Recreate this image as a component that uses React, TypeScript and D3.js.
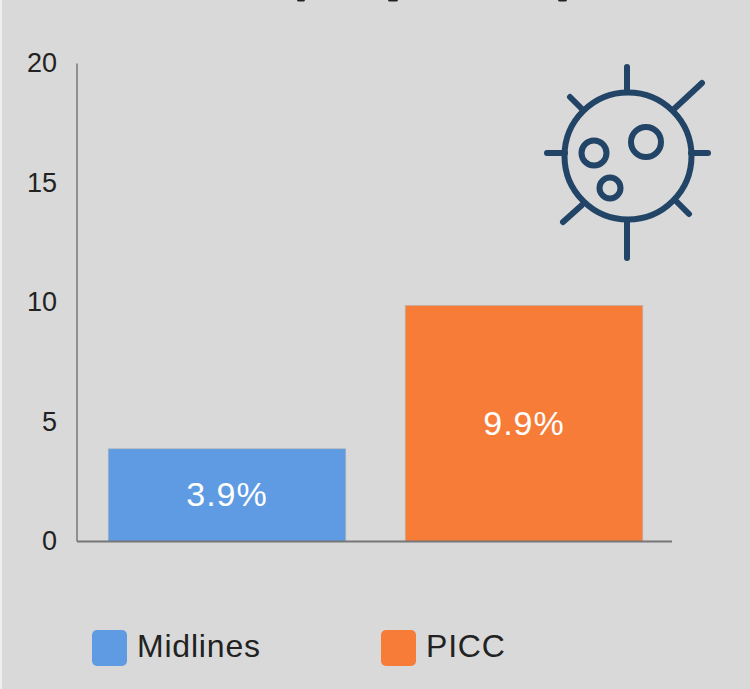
import React from 'react';
import * as d3 from 'd3';

const categories = ['Midlines', 'PICC'];
const values = [3.9, 9.9];
const valueLabels = ['3.9%', '9.9%'];
const colors = ['#5e9be3', '#f67c38'];
const yTicks = [0, 5, 10, 15, 20];

// descenders of the cropped title, all that is left of it at the top edge
const titleStubs = [[297, 8], [388, 10], [558, 9]];

const ICON = '#224466';
const FONT = '"Liberation Sans", Arial, sans-serif';

const App = () => {
  const y = d3.scaleLinear().domain([0, 20]).range([541.5, 63.5]);
  const x = d3.scaleBand().domain(categories).range([78.5, 672.5]).paddingInner(0.2).paddingOuter(0.1);
  const legendX = [92, 381];

  return (
    <svg
      width={750}
      height={689}
      style={{ position: 'absolute', left: 0, top: 0, display: 'block' }}
      fontFamily={FONT}
    >
      <rect width={750} height={689} fill="#d9d9d9" />
      <rect x={0} y={0} width={2} height={689} fill="#eeeeee" />

      {titleStubs.map(([sx, w]) => (
        <rect key={sx} x={sx} y={-2} width={w} height={3.5} rx={1.75} fill="#222222" />
      ))}

      {categories.map((c, i) => (
        <g key={c}>
          <rect
            x={x(c)}
            y={y(values[i]) + 0.5}
            width={x.bandwidth()}
            height={y(0) - y(values[i]) - 0.5}
            fill={colors[i]}
            stroke="#b5b5b5"
            strokeWidth={0.6}
          />
          <text
            x={(x(c) as number) + x.bandwidth() / 2}
            y={(y(values[i]) + y(0)) / 2 + 11.5}
            textAnchor="middle"
            fontSize={34}
            letterSpacing={1}
            fill="#ffffff"
          >
            {valueLabels[i]}
          </text>
        </g>
      ))}

      <line x1={77} x2={77} y1={y(20)} y2={y(0)} stroke="#777777" strokeWidth={1.5} />
      <line x1={77} x2={672} y1={y(0)} y2={y(0)} stroke="#777777" strokeWidth={2} />

      {yTicks.map(t => (
        <text key={t} x={57} y={y(t) + 8.5} textAnchor="end" fontSize={27} fill="#222222">
          {t}
        </text>
      ))}

      {categories.map((c, i) => (
        <g key={c}>
          <rect x={legendX[i]} y={630} width={35} height={36} rx={5} fill={colors[i]} />
          <text x={legendX[i] + 45} y={656.5} fontSize={32} letterSpacing={0.8} fill="#222222">
            {c}
          </text>
        </g>
      ))}

      <g fill="none" stroke={ICON} strokeWidth={6} strokeLinecap="round">
        <circle cx={628} cy={156} r={63.5} />
        <circle cx={646} cy={142} r={15} />
        <circle cx={594} cy={153} r={12.5} />
        <circle cx={610} cy={188} r={10.5} />
        <path d="M627 67V92M627 220V258M547 153H565M691 153H708M570 97L583 110M673 110L702 83M563 222L582 205M677 202L689 214" />
      </g>
    </svg>
  );
};

export default App;
